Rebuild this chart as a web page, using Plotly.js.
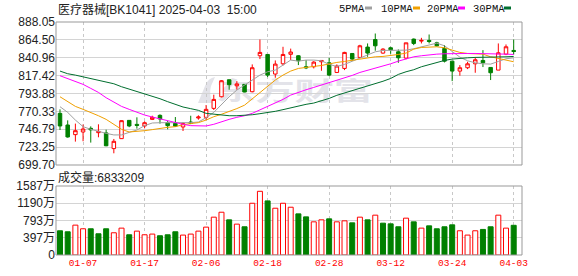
<!DOCTYPE html>
<html><head><meta charset="utf-8">
<script src="https://cdn.plot.ly/plotly-3.0.1.min.js"></script>
<style>html,body{margin:0;padding:0;background:#fff;}#chart{width:578px;height:276px;}</style>
</head><body><div id="chart"></div>
<script>
// ---------- data ----------
const dates = ['01-02','01-03','01-06','01-07','01-08','01-09','01-10','01-13','01-14','01-15','01-16','01-17','01-20','01-21','01-22','01-23','01-24','01-27',
  '02-05','02-06','02-07','02-10','02-11','02-12','02-13','02-14','02-17','02-18','02-19','02-20','02-21','02-24','02-25','02-26','02-27','02-28',
  '03-03','03-04','03-05','03-06','03-07','03-10','03-11','03-12','03-13','03-14','03-17','03-18','03-19','03-20','03-21','03-24','03-25','03-26','03-27','03-28','03-31',
  '04-01','04-02','04-03'];
const openP  = [767.7,752.4,739.7,743.2,748.0,742.3,742.0,721.3,734.4,758.5,753.2,751.1,759.8,765.1,755.5,754.6,749.8,756.3,761.6,762.5,
  774.3,789.6,812.0,804.0,805.9,796.2,843.6,845.3,819.5,833.0,845.5,843.6,829.1,829.1,835.7,834.3,821.6,826.9,846.6,841.4,
  855.0,865.0,847.1,854.1,848.8,840.5,865.5,862.9,863.8,860.6,853.2,836.5,823.4,827.8,833.0,837.4,828.2,824.7,845.7,850.6];
const highP  = [773.0,758.5,754.2,753.0,750.6,753.3,746.2,734.0,758.5,758.8,762.5,757.2,764.6,766.4,757.6,762.9,755.9,764.6,765.1,778.7,
  792.3,811.5,812.0,810.2,806.0,832.2,865.0,845.6,837.4,855.4,853.0,844.4,837.9,836.5,837.9,840.9,832.2,848.8,846.6,858.0,
  859.8,872.9,853.6,855.4,851.9,860.6,866.3,867.2,871.6,862.0,857.6,836.5,831.3,835.7,841.8,851.0,828.7,859.8,858.5,865.0];
const lowP   = [745.8,735.7,730.5,731.0,729.2,736.2,724.5,715.1,734.0,749.5,747.6,748.0,758.9,754.2,746.7,750.0,744.5,753.5,759.4,759.0,
  772.1,788.8,798.9,798.9,795.5,795.4,839.2,815.5,814.6,830.8,838.0,831.3,826.0,826.9,823.8,816.8,820.8,824.7,837.0,840.5,
  842.2,850.2,846.2,846.2,834.3,839.0,857.6,859.8,859.8,855.8,834.8,810.2,817.3,826.0,821.2,828.7,811.6,824.7,844.4,845.3];
const closeP = [751.1,736.6,744.9,747.1,746.0,744.0,725.0,730.9,758.1,751.1,751.9,755.4,762.5,760.3,751.5,750.8,754.2,754.6,762.9,773.0,
  786.1,810.7,805.5,806.5,795.8,827.8,848.0,818.1,832.6,845.3,848.5,837.0,827.8,835.2,837.4,818.1,830.0,848.0,839.2,856.7,
  847.1,856.7,852.3,851.4,840.9,860.6,859.8,863.8,862.4,856.7,836.5,823.4,827.8,833.0,838.3,834.3,821.2,847.5,855.4,849.2];
const ma5  = [776.5,769.0,758.9,750.2,746.7,743.6,741.4,739.3,739.3,742.7,745.8,751.5,755.0,755.4,755.4,754.6,754.6,755.5,756.3,762.0,
  769.0,779.6,789.6,798.4,805.0,811.6,818.1,822.5,824.7,831.3,837.9,836.5,837.9,837.9,837.0,832.2,829.5,832.2,836.5,840.0,
  845.3,848.8,850.6,851.0,851.0,851.0,852.8,855.4,858.0,860.2,856.7,849.7,841.8,837.0,834.3,833.0,832.6,836.1,839.6,840.9];
const ma10 = [789.6,783.1,776.9,773.0,769.0,764.6,759.8,753.3,746.7,743.2,743.6,744.9,746.3,748.0,749.3,750.2,752.8,754.2,755.5,758.9,
  763.3,766.5,770.0,774.0,778.5,786.5,795.5,802.8,811.6,818.1,823.4,826.9,828.6,829.5,830.8,833.0,834.8,836.1,837.8,839.6,
  840.9,842.2,842.7,843.6,845.3,847.1,852.3,854.5,855.4,855.4,854.1,850.6,848.0,846.6,846.2,845.7,842.2,840.1,837.9,835.7];
const ma20 = [817.3,813.7,810.2,805.9,800.6,795.3,788.3,782.2,776.9,773.0,769.0,765.5,762.9,760.3,757.6,755.9,753.3,751.5,751.1,751.1,
  753.3,756.8,759.8,762.5,764.6,767.7,772.1,776.5,780.9,786.1,791.8,795.8,798.8,801.9,805.0,808.5,811.5,815.1,817.7,821.6,
  824.3,826.9,830.0,833.0,836.5,839.6,842.2,843.6,844.9,845.7,846.2,846.6,846.6,846.6,846.6,846.6,846.2,846.2,845.7,845.3];
const ma30 = [823.4,819.9,818.1,815.9,813.7,811.5,809.4,806.7,802.8,799.7,796.2,792.7,789.6,787.0,783.1,779.6,776.1,773.9,771.7,767.7,
  766.4,765.5,764.6,764.6,765.1,765.9,767.3,768.6,770.4,772.6,775.2,776.9,779.6,781.3,784.0,787.4,791.5,794.5,797.5,800.5,
  803.0,806.5,810.0,813.7,819.0,822.5,825.2,829.1,832.2,835.2,837.4,839.2,840.5,840.9,841.4,841.4,841.8,841.8,842.2,842.7];
// volume in 万 (10k)
const volume = [557,534,687,603,603,488,603,511,618,465,549,465,481,443,465,534,458,481,549,641,
  870,984,809,710,649,1190,1465,1244,1076,1190,1099,946,877,763,809,832,763,786,740,870,
  809,916,732,717,649,847,763,618,671,603,649,694,557,458,557,588,649,916,618,683];
// 1 = red (up vs previous close), 0 = green
const volUp = [0,0,1,1,0,0,0,1,1,0,1,1,1,0,0,0,1,1,1,1,
  1,1,0,1,0,1,1,0,1,1,1,0,0,1,1,0,1,1,0,1,
  0,1,0,0,0,1,0,1,0,0,0,0,1,1,1,0,0,1,1,0];
const xTickLabels = ['01-07','01-17','02-06','02-18','02-28','03-12','03-24','04-03'];
const priceTickVals = [699.70,723.25,746.79,770.33,793.88,817.42,840.96,864.50,888.05];
const priceTickText = ['699.70','723.25','746.79','770.33','793.88','817.42','840.96','864.50','888.05'];
const volTickVals = [0,396.75,793.5,1190.25,1587];
const volTickText = ['0','397万','793万','1190万','1587万'];
const titleText = '医疗器械[BK1041]\u00a02025-04-03\u00a0\u00a015:00';
const volLabelText = '成交量:6833209';
const maNames = ['5PMA','10PMA','20PMA','30PMA'];
const watermarkText = '东方财富';

// ---------- styles ----------
const RED = '#ff0000', GREEN = '#008000';
const maColors = ['#a0a0a0','#f0a000','#ff00ff','#006e2e'];
const W = 578, H = 276, ML = 56, MR = 56, MT = 22, MB = 21;
const PW = W - ML - MR, PH = H - MT - MB;
const px = x => (x - ML) / PW;
const py = y => (H - MB - y) / PH;
const FONT = 'Liberation Sans, Noto Sans CJK SC, sans-serif';

const idx = dates.map((d, i) => i);
const maSeries = [ma5, ma10, ma20, ma30];

const traces = [];
traces.push({
  type: 'candlestick', x: idx, open: openP, high: highP, low: lowP, close: closeP,
  xaxis: 'x', yaxis: 'y', hoverinfo: 'skip', showlegend: false, whiskerwidth: 0,
  increasing: {line: {color: RED, width: 1}, fillcolor: '#ffffff'},
  decreasing: {line: {color: GREEN, width: 1}, fillcolor: GREEN}
});
maSeries.forEach((s, k) => traces.push({
  type: 'scatter', mode: 'lines', x: idx, y: s, xaxis: 'x', yaxis: 'y',
  line: {color: maColors[k], width: 1}, hoverinfo: 'skip', showlegend: false
}));
traces.push({
  type: 'bar', x: idx, y: volume, xaxis: 'x', yaxis: 'y2', hoverinfo: 'skip', showlegend: false,
  marker: {color: volUp.map(u => u ? '#ffffff' : GREEN), line: {color: volUp.map(u => u ? RED : GREEN), width: 1}}
});

const annotations = [
  {text: titleText, x: px(56), y: py(9.5), xref: 'paper', yref: 'paper', xanchor: 'left', yanchor: 'middle',
   showarrow: false, font: {family: FONT, size: 12, color: '#222'}},
  {text: volLabelText, x: px(56), y: py(177), xref: 'paper', yref: 'paper', xanchor: 'left', yanchor: 'middle',
   showarrow: false, font: {family: FONT, size: 12, color: '#222'}}
];
const legendX = [337, 379, 425, 471];
const markX = [365, 413, 458, 504];
const shapes = [];
maNames.forEach((n, k) => {
  annotations.push({text: n, x: px(legendX[k]), y: py(8.5), xref: 'paper', yref: 'paper', xanchor: 'left', yanchor: 'middle',
    showarrow: false, font: {family: 'Liberation Mono, monospace', size: 10.5, color: '#111'}});
  shapes.push({type: 'rect', xref: 'paper', yref: 'paper', x0: px(markX[k]), x1: px(markX[k] + 7), y0: py(9.5), y1: py(6.5),
    line: {width: 0}, fillcolor: maColors[k]});
});
// panel frames
shapes.push({type: 'rect', xref: 'paper', yref: 'paper', x0: 0, x1: 1, y0: py(165), y1: 1, line: {color: '#999', width: 1}, fillcolor: 'rgba(0,0,0,0)', layer: 'above'});
shapes.push({type: 'rect', xref: 'paper', yref: 'paper', x0: 0, x1: 1, y0: 0, y1: py(186), line: {color: '#999', width: 1}, fillcolor: 'rgba(0,0,0,0)', layer: 'above'});

const wmSvg = '<svg xmlns="http://www.w3.org/2000/svg" width="178" height="26" viewBox="0 0 178 26">' +
  '<path d="M1 26 L8 9 Q11 1 18 0 L14 9 Q12 16 15 26 Z" fill="#e3e3e9"/>' +
  '<text x="19" y="23" font-family="Noto Sans CJK SC" font-weight="700" font-size="25" textLength="157" lengthAdjust="spacingAndGlyphs" fill="#e3e3e9">' +
  watermarkText + '</text></svg>';

const layout = {
  width: W, height: H, margin: {l: ML, r: MR, t: MT, b: MB, pad: 0},
  paper_bgcolor: '#ffffff', plot_bgcolor: 'rgba(0,0,0,0)',
  showlegend: false, hovermode: false, bargap: 0.35, boxgap: 0.35,
  font: {family: FONT, size: 12, color: '#222'},
  xaxis: {anchor: 'y2', type: 'linear', range: [-0.52, 60.08], rangeslider: {visible: false},
    tickmode: 'array', tickvals: xTickLabels.map(d => dates.indexOf(d)), ticktext: xTickLabels,
    ticks: '', showline: false, zeroline: false, showgrid: true, gridcolor: '#c8c8c8', griddash: '3px,3px', gridwidth: 1,
    tickfont: {family: 'Liberation Mono, monospace', size: 9.5, color: RED}},
  yaxis: {domain: [py(165), 1], range: [699.70, 888.05], tickmode: 'array', tickvals: priceTickVals, ticktext: priceTickText,
    ticks: '', showline: false, zeroline: false, showgrid: true, gridcolor: '#d4d4d4', gridwidth: 1,
    tickfont: {family: FONT, size: 12, color: '#222'}},
  yaxis2: {domain: [0, py(186)], range: [0, 1587], tickmode: 'array', tickvals: volTickVals, ticktext: volTickText,
    ticks: '', showline: false, zeroline: false, showgrid: true, gridcolor: '#d4d4d4', gridwidth: 1,
    tickfont: {family: FONT, size: 12, color: '#222'}},
  annotations: annotations, shapes: shapes,
  images: [{source: 'data:image/svg+xml;charset=utf-8,' + encodeURIComponent(wmSvg), xref: 'paper', yref: 'paper',
    x: px(197), y: py(77), sizex: 178 / PW, sizey: 26 / PH, xanchor: 'left', yanchor: 'top', sizing: 'stretch', layer: 'below'}]
};
Plotly.newPlot('chart', traces, layout, {staticPlot: true, displayModeBar: false});
</script></body></html>
